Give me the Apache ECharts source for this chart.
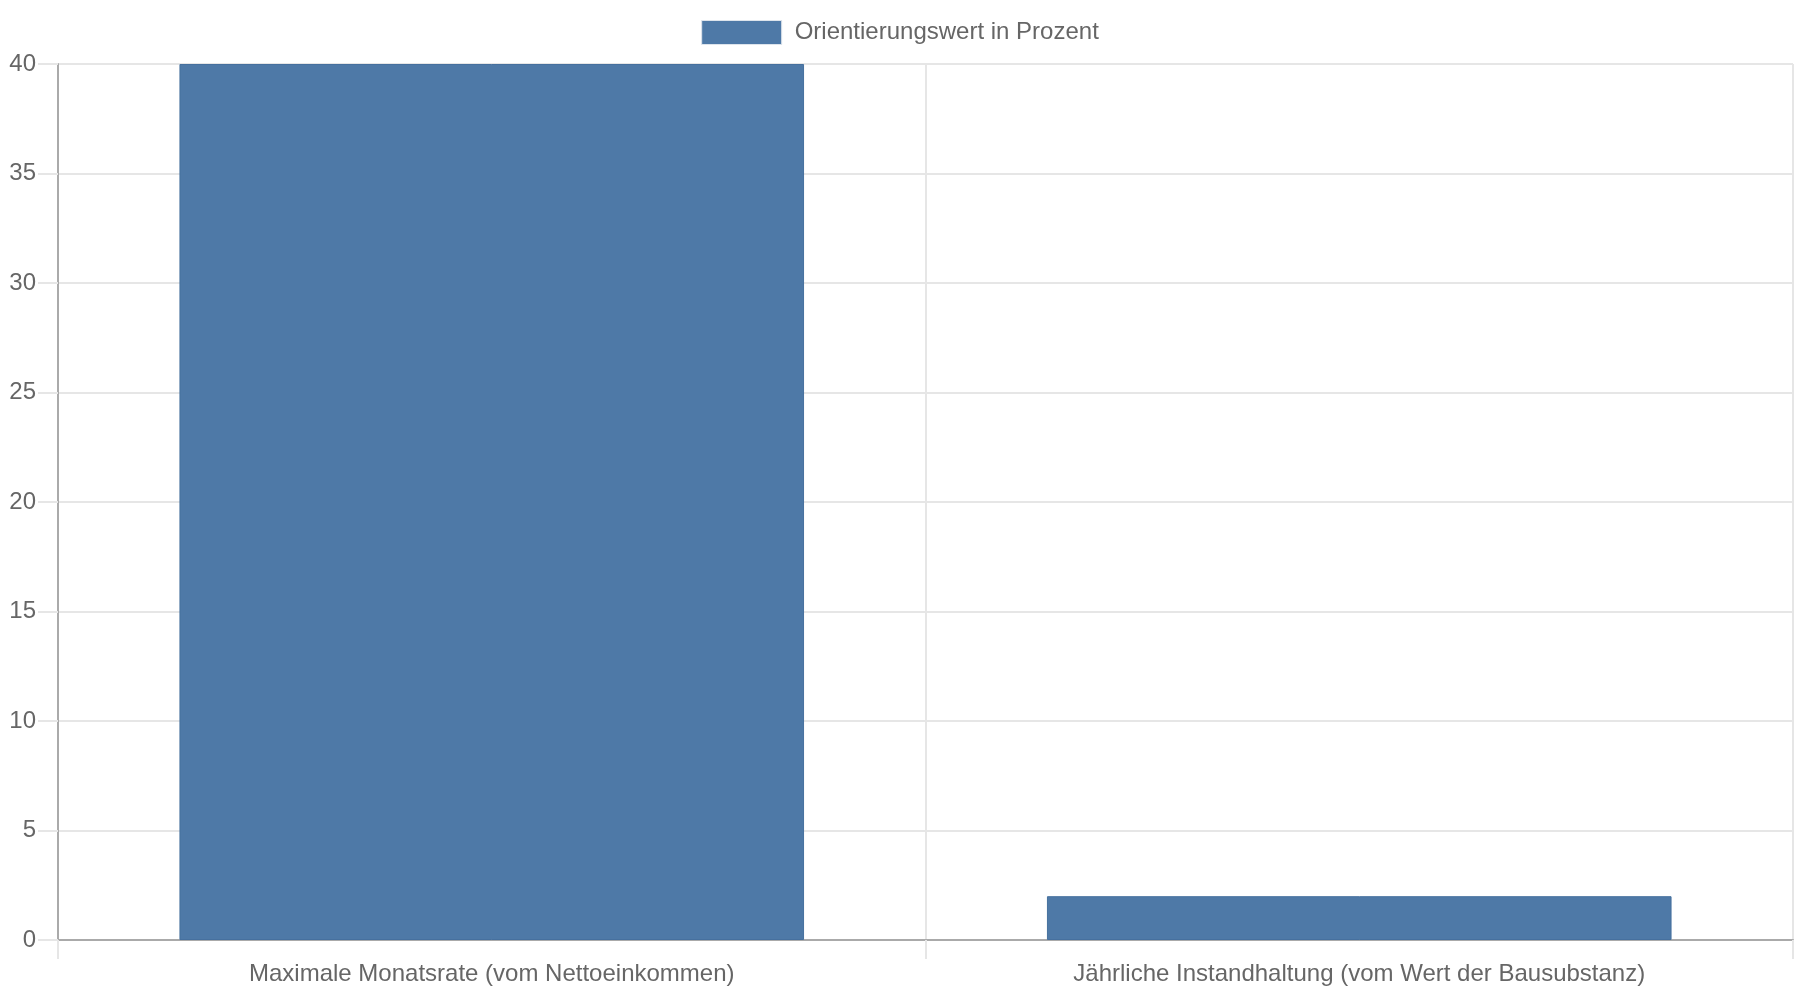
<!DOCTYPE html>
<html>
<head>
<meta charset="utf-8">
<title>Orientierungswert in Prozent</title>
<script src="https://cdn.jsdelivr.net/npm/echarts@6/dist/echarts.min.js"></script>
<style>
  html, body { margin: 0; padding: 0; background: #fff; }
  #chart { width: 1800px; height: 1000px; }
</style>
</head>
<body>
<div id="chart"></div>
<script>
// Daten
var categories = ['Maximale Monatsrate (vom Nettoeinkommen)', 'Jährliche Instandhaltung (vom Wert der Bausubstanz)'];
var seriesName = 'Orientierungswert in Prozent';
var values = [40, 2];

var textColor = '#666666';
var gridColor = '#e6e6e6';
var axisColor = '#aaaaaa';
var barColor = '#4e79a7';

var chart = echarts.init(document.getElementById('chart'), null, { renderer: 'canvas' });

var option = {
  animation: false,
  textStyle: { fontFamily: 'Liberation Sans, Arial, sans-serif' },
  legend: {
    top: 15,
    left: 'center',
    itemWidth: 80,
    itemHeight: 24,
    icon: 'rect',
    itemStyle: { borderColor: '#dde4ec', borderWidth: 1 },
    textStyle: { fontSize: 24, color: textColor, padding: [0, 0, 0, 8] },
    data: [seriesName]
  },
  grid: {
    left: 58,
    right: 7,
    top: 64,
    bottom: 60,
    containLabel: false
  },
  xAxis: {
    type: 'category',
    data: categories,
    axisLine: { lineStyle: { color: axisColor, width: 2 } },
    axisTick: { show: true, length: 19, lineStyle: { color: gridColor, width: 2 } },
    splitLine: { show: true, lineStyle: { color: gridColor, width: 2 } },
    axisLabel: { fontSize: 24, color: textColor, margin: 22 }
  },
  yAxis: {
    type: 'value',
    min: 0,
    max: 40,
    interval: 5,
    axisLine: { show: true, lineStyle: { color: axisColor, width: 2 } },
    axisTick: { show: true, length: 20, lineStyle: { color: gridColor, width: 2 } },
    splitLine: { show: true, lineStyle: { color: gridColor, width: 2 } },
    axisLabel: { fontSize: 24, color: textColor, margin: 22 }
  },
  series: [{
    name: seriesName,
    type: 'bar',
    data: values,
    barWidth: '72%',
    itemStyle: { color: barColor, borderColor: '#46709e', borderWidth: 1 }
  }]
};

chart.setOption(option);
</script>
</body>
</html>
